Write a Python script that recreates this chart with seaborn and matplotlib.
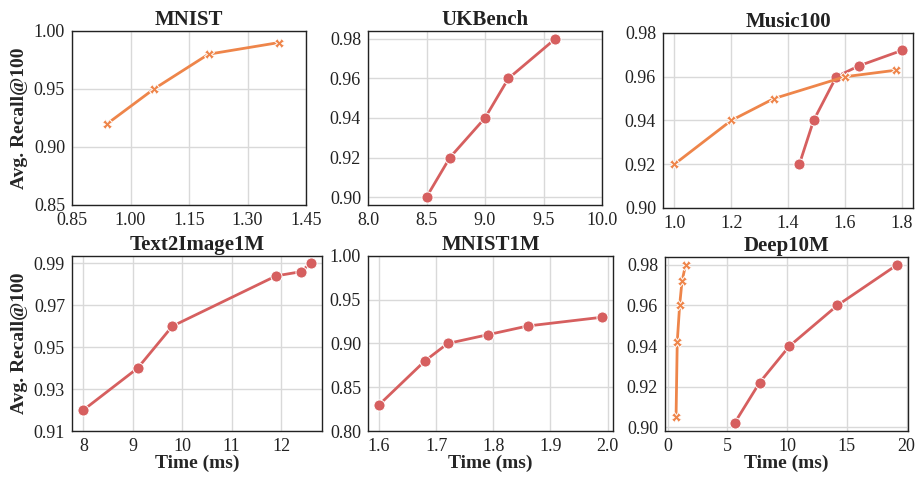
import matplotlib
matplotlib.use("Agg")
import matplotlib.pyplot as plt
import seaborn as sns

# ---- data ----
mnist_x = [0.94, 1.06, 1.20, 1.38]
mnist_y = [0.92, 0.95, 0.98, 0.99]

ukbench_x = [8.5, 8.7, 9.0, 9.2, 9.6]
ukbench_y = [0.90, 0.92, 0.94, 0.96, 0.98]

music_red_x = [1.44, 1.49, 1.57, 1.65, 1.80]
music_red_y = [0.92, 0.94, 0.96, 0.965, 0.972]
music_orange_x = [1.00, 1.20, 1.35, 1.60, 1.78]
music_orange_y = [0.92, 0.94, 0.95, 0.96, 0.963]

t2i_x = [8.0, 9.1, 9.8, 11.9, 12.4, 12.6]
t2i_y = [0.92, 0.94, 0.96, 0.984, 0.986, 0.99]

mnist1m_x = [1.60, 1.68, 1.72, 1.79, 1.86, 1.99]
mnist1m_y = [0.83, 0.88, 0.90, 0.91, 0.92, 0.93]

deep_red_x = [5.6, 7.7, 10.2, 14.2, 19.2]
deep_red_y = [0.902, 0.922, 0.94, 0.96, 0.98]
deep_orange_x = [0.7, 0.8, 1.0, 1.2, 1.5]
deep_orange_y = [0.905, 0.942, 0.96, 0.972, 0.98]

titles = ["MNIST", "UKBench", "Music100", "Text2Image1M", "MNIST1M", "Deep10M"]

RED = "#d65f5f"
ORANGE = "#ee854a"

sns.set_theme(style="whitegrid")
plt.rcParams["font.family"] = ["Liberation Serif", "DejaVu Serif"]
plt.rcParams["axes.edgecolor"] = "#222222"
plt.rcParams["axes.linewidth"] = 1.0
plt.rcParams["grid.color"] = "#d9d9d9"
plt.rcParams["grid.linewidth"] = 1.0
plt.rcParams["text.color"] = "#222222"
plt.rcParams["xtick.color"] = "#222222"
plt.rcParams["ytick.color"] = "#222222"

W, H = 915, 478
fig = plt.figure(figsize=(W / 100, H / 100), dpi=100)

# axes boxes in pixels: left, right, top, bottom
boxes = [
    (72, 306, 31, 205),
    (368, 602, 31, 205),
    (663, 913, 33, 208),
    (72, 322, 256, 431),
    (368, 613, 256, 431),
    (665, 908, 257, 431),
]
axes = []
for l, r, t, b in boxes:
    axes.append(fig.add_axes([l / W, 1 - b / H, (r - l) / W, (b - t) / H]))


def draw(ax, x, y, color, marker):
    sns.lineplot(x=x, y=y, ax=ax, color=color, marker=marker,
                 markersize=8 if marker == "o" else 6.5,
                 markeredgecolor="white", markeredgewidth=0.7,
                 linewidth=2.0, sort=False)


draw(axes[0], mnist_x, mnist_y, ORANGE, "X")
draw(axes[1], ukbench_x, ukbench_y, RED, "o")
draw(axes[2], music_red_x, music_red_y, RED, "o")
draw(axes[2], music_orange_x, music_orange_y, ORANGE, "X")
draw(axes[3], t2i_x, t2i_y, RED, "o")
draw(axes[4], mnist1m_x, mnist1m_y, RED, "o")
draw(axes[5], deep_orange_x, deep_orange_y, ORANGE, "X")
draw(axes[5], deep_red_x, deep_red_y, RED, "o")

# limits and ticks
axes[0].set_xlim(0.85, 1.45)
axes[0].set_xticks([0.85, 1.00, 1.15, 1.30, 1.45])
axes[0].set_ylim(0.85, 1.00)
axes[0].set_yticks([0.85, 0.90, 0.95, 1.00])

axes[1].set_xlim(8.0, 10.0)
axes[1].set_xticks([8.0, 8.5, 9.0, 9.5, 10.0])
axes[1].set_yticks([0.90, 0.92, 0.94, 0.96, 0.98])

axes[2].set_ylim(0.90, 0.98)
axes[2].set_xticks([1.0, 1.2, 1.4, 1.6, 1.8])
axes[2].set_yticks([0.90, 0.92, 0.94, 0.96, 0.98])

axes[3].set_ylim(bottom=0.91)
axes[3].set_yticks([0.91, 0.93, 0.95, 0.97, 0.99])
axes[3].set_xticks([8, 9, 10, 11, 12])

axes[4].set_ylim(0.80, 1.00)
axes[4].set_yticks([0.80, 0.85, 0.90, 0.95, 1.00])
axes[4].set_xticks([1.6, 1.7, 1.8, 1.9, 2.0])

axes[5].set_xticks([0, 5, 10, 15, 20])
axes[5].set_yticks([0.90, 0.92, 0.94, 0.96, 0.98])

fmt2 = lambda v: f"{v:.2f}"
for ax in axes:
    ax.set_yticklabels([fmt2(v) for v in ax.get_yticks()])
axes[0].set_xticklabels([fmt2(v) for v in axes[0].get_xticks()])
axes[1].set_xticklabels([f"{v:.1f}" for v in axes[1].get_xticks()])
axes[2].set_xticklabels([f"{v:.1f}" for v in axes[2].get_xticks()])
axes[4].set_xticklabels([f"{v:.1f}" for v in axes[4].get_xticks()])
axes[3].set_xticklabels([f"{int(v)}" for v in axes[3].get_xticks()])
axes[5].set_xticklabels([f"{int(v)}" for v in axes[5].get_xticks()])

for i, ax in enumerate(axes):
    ax.set_title(titles[i], fontsize=15, fontweight="bold", pad=4)
    ax.tick_params(axis="x", labelsize=13, pad=5, length=0)
    ax.tick_params(axis="y", labelsize=13, pad=5, length=0)
    for s in ax.spines.values():
        s.set_color("#222222")
        s.set_linewidth(1.0)
    ax.set_xlabel("")
    ax.set_ylabel("")

for ax in (axes[0], axes[3]):
    ax.set_ylabel("Avg. Recall@100", fontsize=14, fontweight="bold", labelpad=4)
for ax in axes[3:]:
    ax.set_xlabel("Time (ms)", fontsize=14, fontweight="bold", labelpad=0)

fig.savefig("out.png", dpi=100)
